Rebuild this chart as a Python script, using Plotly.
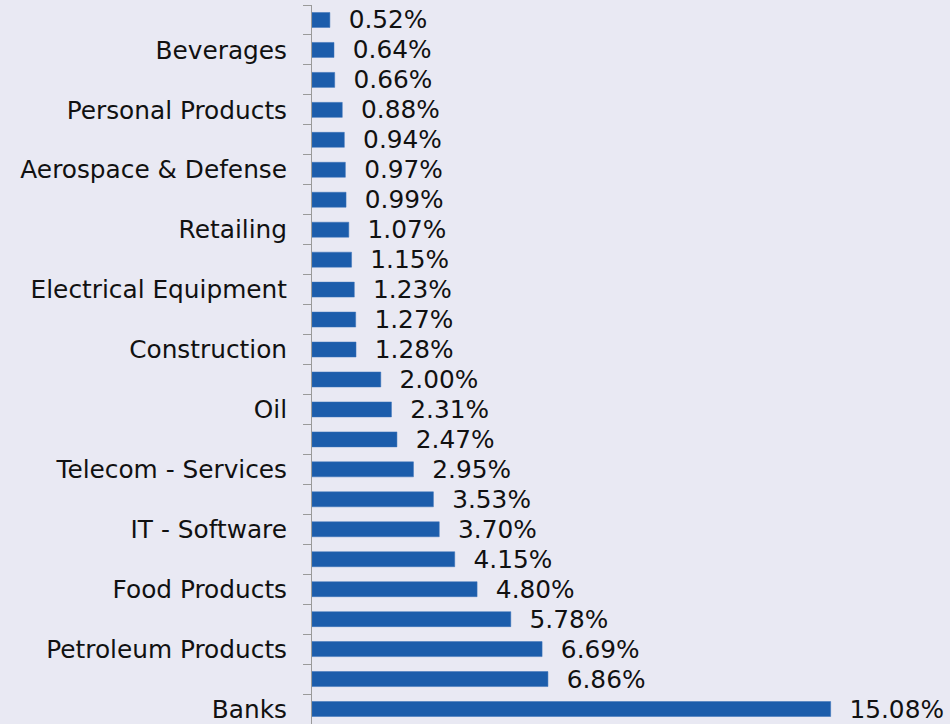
import plotly.graph_objects as go

# bottom-to-top order
sectors = [
    "Banks", "Finance", "Petroleum Products", "Pharmaceuticals",
    "Food Products", "Automobiles", "IT - Software", "Power",
    "Telecom - Services", "Cement", "Oil", "Consumer Durables",
    "Construction", "Insurance", "Electrical Equipment", "Auto Components",
    "Retailing", "Chemicals", "Aerospace & Defense", "Ferrous Metals",
    "Personal Products", "Gas", "Beverages", "Textiles",
]
weights = [
    15.08, 6.86, 6.69, 5.78, 4.80, 4.15, 3.70, 3.53, 2.95, 2.47, 2.31, 2.00,
    1.28, 1.27, 1.23, 1.15, 1.07, 0.99, 0.97, 0.94, 0.88, 0.66, 0.64, 0.52,
]
shown_labels = [s if i % 2 == 0 else "" for i, s in enumerate(sectors)]

FONT = "DejaVu Sans, sans-serif"
FS = 24.8
BG = "#e9e9f3"

fig = go.Figure(
    go.Bar(
        x=weights,
        y=sectors,
        orientation="h",
        width=0.5,
        marker=dict(color="#1c5dab", line=dict(color="#3a73b9", width=0.5)),
        texttemplate="\u00a0\u00a0%{x:.2f}%",
        textposition="outside",
        constraintext="none",
        textfont=dict(family=FONT, size=FS, color="#111111"),
        cliponaxis=False,
        hoverinfo="skip",
    )
)

fig.update_layout(
    width=950,
    height=724,
    margin=dict(l=312, r=0, t=5, b=0),
    paper_bgcolor=BG,
    plot_bgcolor=BG,
    showlegend=False,
    font=dict(family=FONT, size=FS, color="#111111"),
    xaxis=dict(range=[0, 18.55], visible=False, fixedrange=True),
    yaxis=dict(
        type="category",
        categoryorder="array",
        categoryarray=sectors,
        tickmode="array",
        tickvals=sectors,
        ticktext=shown_labels,
        tickson="boundaries",
        ticks="outside",
        ticklen=8,
        tickcolor="#9a9a9a",
        showline=True,
        linecolor="#9a9a9a",
        linewidth=1,
        showgrid=False,
        zeroline=False,
        automargin=False,
        fixedrange=True,
        tickfont=dict(family=FONT, size=FS, color="#111111"),
        ticklabelstandoff=19,
    ),
)

fig.write_html(
    "out.html",
    config={"displayModeBar": False},
    post_script="document.body.style.margin='0';document.body.style.background='%s';" % BG,
)
